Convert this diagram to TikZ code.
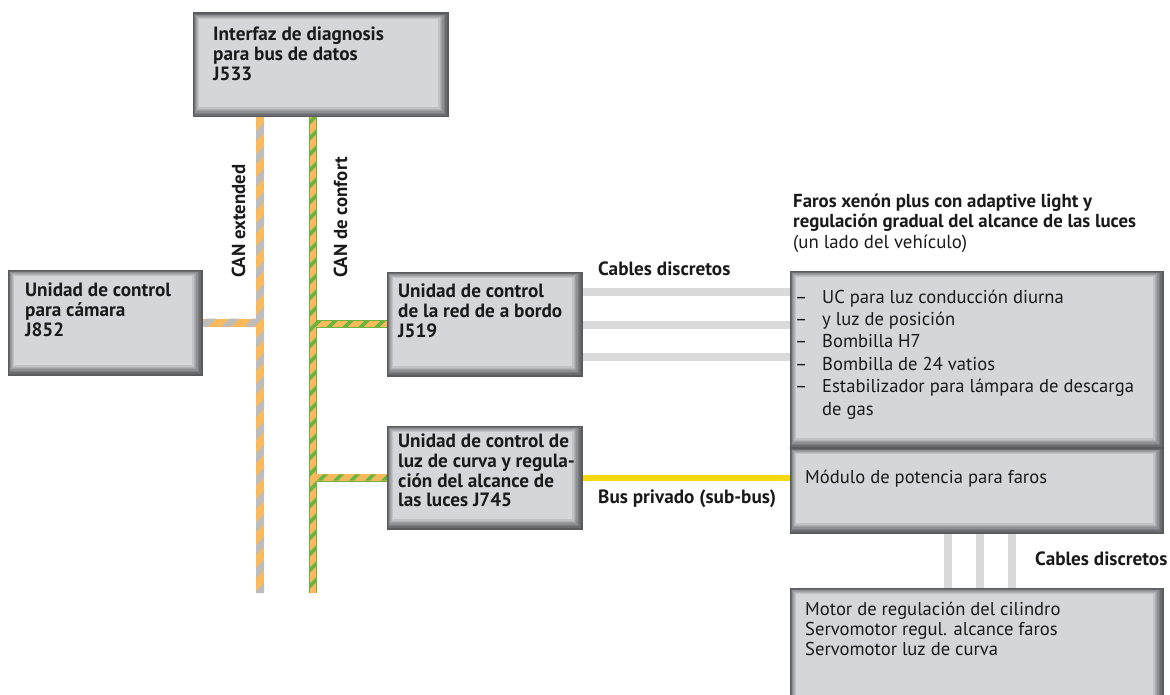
\documentclass[tikz,border=0pt]{standalone}
\usepackage{fontspec}
\setmainfont{PT Sans}
\usetikzlibrary{calc}
\definecolor{canor}{HTML}{F8BA5C}
\definecolor{cangrey}{HTML}{BDBDBD}
\definecolor{cangreen}{HTML}{6DB33F}
\definecolor{subyellow}{HTML}{F6D812}
\definecolor{discrete}{HTML}{DADADA}
\definecolor{boxline}{HTML}{5A5B5F}
\definecolor{boxinner}{HTML}{D4D6D9}
\definecolor{txt}{HTML}{1A1A1A}
\newcommand\bevelbox[1]{%
  \foreach \k/\shade in {0/0,1/14,2/28,3/42,4/56,5/70,6/84,7/100}{
    \fill[boxinner!\shade!boxline]
      ($(#1.south west)+(0.8*\k,-1.4*\k)$) rectangle ($(#1.north east)+(-1.4*\k,0.8*\k)$);
  }
  \draw[boxline, line width=1pt] (#1.south west) rectangle (#1.north east);
}
\tikzset{
  panel/.style={inner sep=0pt, outer sep=0pt, anchor=north west},
  boxtitle/.style={font=\bfseries\fontsize{19.2}{19.6}\selectfont, text=txt, align=left, inner sep=0pt, anchor=north west},
  boxplain/.style={font=\fontsize{18.6}{20}\selectfont, text=txt, align=left, inner sep=0pt, anchor=north west},
  lbl/.style={font=\bfseries\fontsize{19.2}{20}\selectfont, text=txt, inner sep=0pt, anchor=base west},
  extbus/.style={line width=8pt, canor},
  extstripe/.style={line width=7pt, cangrey},
  cnfout/.style={line width=8pt, cangreen},
  cnfin/.style={line width=6.4pt, canor},
  cnfstripe/.style={line width=3.8pt, cangreen},
  subbus/.style={line width=6pt, subyellow},
  discretecable/.style={line width=8pt, discrete}
}
\begin{document}
\begin{tikzpicture}[x=1pt,y=-1pt]
\useasboundingbox (0,0) rectangle (1170,695);
\fill[white] (0,0) rectangle (1170,695);
\clip (0,0) rectangle (1170,695);

% box nodes (shapes drawn later with \bevelbox)
\path node[panel, minimum width=255pt, minimum height=104pt] (J533) at (193,13) {}
      node[panel, minimum width=194pt, minimum height=105pt] (J852) at (8,270) {}
      node[panel, minimum width=195pt, minimum height=104pt] (J519) at (387,272) {}
      node[panel, minimum width=195pt, minimum height=103pt] (J745) at (387,426) {}
      node[panel, minimum width=373pt, minimum height=177pt] (Faros) at (790,271) {}
      node[panel, minimum width=373pt, minimum height=85pt] (Module) at (790,448) {}
      node[panel, minimum width=373pt, minimum height=125pt] (Motor) at (790,588) {};

% bus coordinates
\coordinate (xe) at (260,0);
\coordinate (xc) at (313,0);
\coordinate (extTop) at (J533.south -| xe);
\coordinate (extBot) at (260,593);
\coordinate (cnfTop) at (J533.south -| xc);
\coordinate (cnfBot) at (313,593);
\coordinate (b852) at (J852.east -| xe);
\coordinate (b519) at (J519.west -| xc);
\coordinate (b745) at (J745.west -| xc);

% CAN extended
\draw[extbus] (extTop) -- (extBot);
\draw[extbus] (J852.east) -- (b852);
\begin{scope}
  \clip ($(extTop)+(-4,0)$) rectangle ($(extBot)+(4,0)$)
        ($(J852.east)+(0,-4)$) rectangle ($(b852)+(4,4)$);
  \foreach \c in {300,323,...,900} \draw[extstripe] (\c-100,100) -- (\c-610,610);
\end{scope}

% CAN de confort
\draw[cnfout] (cnfTop) -- (cnfBot);
\draw[cnfout] (b519) -- (J519.west);
\draw[cnfout] (b745) -- (J745.west);
\draw[cnfin] (cnfTop) -- (cnfBot);
\draw[cnfin] (b519) -- (J519.west);
\draw[cnfin] (b745) -- (J745.west);
\begin{scope}
  \clip ($(cnfTop)+(-3.2,0)$) rectangle ($(cnfBot)+(3.2,0)$)
        ($(b519)+(0,-3.2)$) rectangle ($(J519.west)+(0,3.2)$)
        ($(b745)+(0,-3.2)$) rectangle ($(J745.west)+(0,3.2)$);
  \foreach \c in {400,416,...,1000} \draw[cnfstripe] (\c-100,100) -- (\c-610,610);
\end{scope}

% private bus
\draw[subbus] (J745.east) -- (J745.east -| Module.west);

% discrete cables J519 -> Faros
\coordinate (d1) at ([yshift=32pt]J519.east);
\coordinate (d2) at ([yshift=-1pt]J519.east);
\coordinate (d3) at ([yshift=-33pt]J519.east);
\draw[discretecable] (d1) -- (d1 -| Faros.west);
\draw[discretecable] (d2) -- (d2 -| Faros.west);
\draw[discretecable] (d3) -- (d3 -| Faros.west);

% discrete cables Module -> Motor
\coordinate (v1) at ([xshift=-28.5pt]Module.south);
\coordinate (v2) at ([xshift=3.5pt]Module.south);
\coordinate (v3) at ([xshift=35.5pt]Module.south);
\draw[discretecable] (v1) -- (v1 |- Motor.north);
\draw[discretecable] (v2) -- (v2 |- Motor.north);
\draw[discretecable] (v3) -- (v3 |- Motor.north);

% boxes drawn over connector ends
\bevelbox{J533}
\bevelbox{J852}
\bevelbox{J519}
\bevelbox{J745}
\bevelbox{Faros}
\bevelbox{Module}
\bevelbox{Motor}

% box texts
\node[boxtitle] (tJ533) at (213,27) {Interfaz de diagnosis\\para bus de datos\\J533};
\node[boxtitle] (tJ852) at (25,283) {Unidad de control\\para cámara\\J852};
\node[boxtitle] (tJ519) at (398,284) {Unidad de control\\de la red de a bordo\\J519};
\node[boxtitle] (tJ745) at (398,434) {Unidad de control de\\luz de curva y regula-\\ción del alcance de\\las luces J745};

\node[boxplain, font=\fontsize{18.6}{22.4}\selectfont] (tList) at (795,289.6)
  {\makebox[27pt][l]{–}UC para luz conducción diurna\\
   \makebox[27pt][l]{–}y luz de posición\\
   \makebox[27pt][l]{–}Bombilla H7\\
   \makebox[27pt][l]{–}Bombilla de 24 vatios\\
   \makebox[27pt][l]{–}Estabilizador para lámpara de descarga\\
   \makebox[27pt][l]{}de gas};
\node[boxplain, anchor=base west] (tModule) at (805,483) {Módulo de potencia para faros};
\node[boxplain] (tMotor) at (805,601.6) {Motor de regulación del cilindro\\Servomotor regul. alcance faros\\Servomotor luz de curva};

\node[boxtitle, font=\fontsize{18.8}{20.5}\selectfont] (tFaros) at (793,193.5)
  {\textbf{Faros xenón plus con adaptive light y}\\
   \textbf{regulación gradual del alcance de las luces}\\
   (un lado del vehículo)};

% labels
\node[lbl] (lCab1) at (598,275) {Cables discretos};
\node[lbl] (lCab2) at (1035,565) {Cables discretos};
\node[lbl] (lBus) at (598,503) {Bus privado (sub-bus)};
\node[lbl, font=\bfseries\fontsize{18.8}{20}\selectfont, rotate=90] (lExt) at (245,278) {CAN extended};
\node[lbl, font=\bfseries\fontsize{18.8}{20}\selectfont, rotate=90] (lCnf) at (347,278) {CAN de confort};
\end{tikzpicture}
\end{document}
